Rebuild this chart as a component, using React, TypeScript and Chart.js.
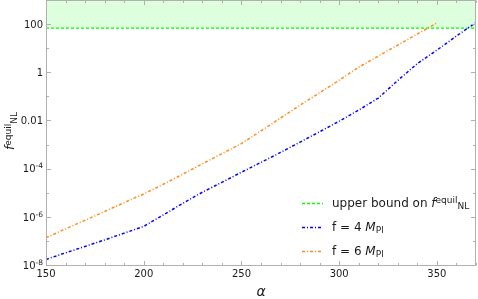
import React, { useEffect, useRef } from "react";
import { Chart, registerables } from "chart.js";

Chart.register(...registerables);

// alpha values (x)
const alphaBlue = [150, 160, 170, 180, 190, 200, 210, 220, 230, 240, 250, 260, 270, 280, 290, 300, 310, 320, 330, 340, 350, 360, 370];
// f = 4 M_Pl
const fnlBlue = [1.7e-8, 3.2e-8, 5.9e-8, 1.1e-7, 2.1e-7, 4.0e-7, 1.2e-6, 3.6e-6, 1.05e-5, 2.7e-5, 7.1e-5, 1.82e-4, 4.7e-4, 1.26e-3, 3.4e-3, 9.3e-3, 0.027, 0.085, 0.46, 2.3, 8.3, 32, 117];

const alphaOrange = [150, 160, 170, 180, 190, 200, 210, 220, 230, 240, 250, 260, 270, 280, 290, 300, 310, 320, 330, 340, 350];
// f = 6 M_Pl
const fnlOrange = [1.35e-7, 3.16e-7, 7.2e-7, 1.66e-6, 3.9e-6, 8.9e-6, 2.24e-5, 5.9e-5, 1.58e-4, 4.2e-4, 1.1e-3, 3.7e-3, 0.0126, 0.043, 0.141, 0.47, 1.62, 4.7, 13.5, 38.9, 112];

// upper bound on f_NL^equil
const boundAlpha = [150, 370];
const boundValue = 68;

// axis ticks
const xMajorTicks = [150, 200, 250, 300, 350];
const yExponents = [-8, -7, -6, -5, -4, -3, -2, -1, 0, 1, 2, 3];
const yLabelExponents = [-8, -6, -4, -2, 0, 2];

const FONT = "'DejaVu Sans'";
const TXT = "#1a1a1a";
const FRAME = "#b0b0b0";

type Part = { text: string; font: string; dy: number };

function richWidth(ctx: CanvasRenderingContext2D, parts: Part[]) {
  let w = 0;
  for (const p of parts) {
    ctx.font = p.font;
    w += ctx.measureText(p.text).width;
  }
  return w;
}

function drawRich(ctx: CanvasRenderingContext2D, parts: Part[], x: number, y: number) {
  let cx = x;
  ctx.textAlign = "left";
  ctx.textBaseline = "alphabetic";
  for (const p of parts) {
    ctx.font = p.font;
    ctx.fillText(p.text, cx, y + p.dy);
    cx += ctx.measureText(p.text).width;
  }
}

const decorPlugin = {
  id: "decor",
  afterDraw(chart: any) {
    const ctx: CanvasRenderingContext2D = chart.ctx;
    const { left, right, top, bottom } = chart.chartArea;
    const xs = chart.scales.x;
    const ys = chart.scales.y;
    ctx.save();
    // frame
    ctx.strokeStyle = FRAME;
    ctx.lineWidth = 1;
    ctx.setLineDash([]);
    const L = Math.round(left) + 0.5;
    const R = Math.round(right) - 0.5;
    const T = Math.round(top) + 0.5;
    const B = Math.round(bottom) + 0.5;
    ctx.strokeRect(L, T, R - L, B - T);
    ctx.beginPath();
    for (let a = 150; a <= 370; a += 10) {
      const px = Math.round(xs.getPixelForValue(a)) + 0.5;
      const len = a % 50 === 0 ? 4.5 : 2.5;
      ctx.moveTo(px, B);
      ctx.lineTo(px, B - len);
      ctx.moveTo(px, T);
      ctx.lineTo(px, T + len);
    }
    for (const e of yExponents) {
      const py = Math.round(ys.getPixelForValue(Math.pow(10, e))) + 0.5;
      const len = e % 2 === 0 ? 4.5 : 2.5;
      ctx.moveTo(L, py);
      ctx.lineTo(L + len, py);
      ctx.moveTo(R, py);
      ctx.lineTo(R - len, py);
    }
    ctx.stroke();

    // tick labels
    ctx.fillStyle = TXT;
    ctx.font = `10px ${FONT}`;
    ctx.textAlign = "center";
    ctx.textBaseline = "middle";
    for (const a of xMajorTicks) {
      ctx.fillText(String(a), xs.getPixelForValue(a), 274);
    }
    for (const e of yLabelExponents) {
      const py = ys.getPixelForValue(Math.pow(10, e));
      let parts: Part[];
      if (e >= -2) {
        const t = e === 2 ? "100" : e === 0 ? "1" : "0.01";
        parts = [{ text: t, font: `10px ${FONT}`, dy: 0 }];
      } else {
        parts = [
          { text: "10", font: `10px ${FONT}`, dy: 0 },
          { text: "-" + String(-e), font: `7.5px ${FONT}`, dy: -4 },
        ];
      }
      const w = richWidth(ctx, parts);
      drawRich(ctx, parts, 43 - w, py + 3.8);
    }

    // x title
    ctx.font = `italic 14px ${FONT}`;
    ctx.textAlign = "center";
    ctx.textBaseline = "alphabetic";
    ctx.fillText("α", (left + right) / 2, 295.5);

    // y title
    const yParts: Part[] = [
      { text: "f", font: `italic 12px ${FONT}`, dy: 0 },
      { text: "equil", font: `9px ${FONT}`, dy: -3.5 },
      { text: "NL", font: `9px ${FONT}`, dy: 2.6 },
    ];
    const yw = richWidth(ctx, yParts);
    ctx.save();
    ctx.translate(14, 131);
    ctx.rotate(-Math.PI / 2);
    drawRich(ctx, yParts, -yw / 2, 0);
    ctx.restore();

    // legend
    const rows = [
      {
        color: "#00ff00",
        dash: [3, 2],
        parts: [
          { text: "upper bound on ", font: `12px ${FONT}`, dy: 0 },
          { text: "f", font: `italic 12px ${FONT}`, dy: 0 },
          { text: "equil", font: `9px ${FONT}`, dy: -3.5 },
          { text: "NL", font: `9px ${FONT}`, dy: 2.6 },
        ],
        base: 206.7,
      },
      {
        color: "#0000ff",
        dash: [3, 2, 1, 2],
        parts: [
          { text: "f = 4 ", font: `12px ${FONT}`, dy: 0 },
          { text: "M", font: `italic 12px ${FONT}`, dy: 0 },
          { text: "Pl", font: `9px ${FONT}`, dy: 2.6 },
        ],
        base: 230.5,
      },
      {
        color: "#ff8c1a",
        dash: [3, 2, 1, 2],
        parts: [
          { text: "f = 6 ", font: `12px ${FONT}`, dy: 0 },
          { text: "M", font: `italic 12px ${FONT}`, dy: 0 },
          { text: "Pl", font: `9px ${FONT}`, dy: 2.6 },
        ],
        base: 254.5,
      },
    ];
    for (const r of rows) {
      const ly = Math.round(r.base - 3.8) + 0.5;
      ctx.strokeStyle = r.color;
      ctx.lineWidth = 1.3;
      ctx.setLineDash(r.dash);
      ctx.beginPath();
      ctx.moveTo(302, ly);
      ctx.lineTo(323, ly);
      ctx.stroke();
      ctx.setLineDash([]);
      ctx.fillStyle = TXT;
      drawRich(ctx, r.parts as Part[], 332, r.base);
    }
    ctx.restore();
  },
};

export default function App() {
  const ref = useRef<HTMLCanvasElement | null>(null);
  useEffect(() => {
    document.body.style.margin = "0";
    const canvas = ref.current;
    if (!canvas) return;
    const chart = new Chart(canvas, {
      type: "line",
      data: {
        datasets: [
          {
            label: "f = 4 M_Pl",
            data: alphaBlue.map((a, i) => ({ x: a, y: fnlBlue[i] })),
            borderColor: "#0000ff",
            borderDash: [3, 2, 1, 2],
            borderWidth: 1.5,
            pointRadius: 0,
            fill: false,
            tension: 0,
          },
          {
            label: "f = 6 M_Pl",
            data: alphaOrange.map((a, i) => ({ x: a, y: fnlOrange[i] })),
            borderColor: "#ff8c1a",
            borderDash: [3, 2, 1, 2],
            borderWidth: 1.5,
            pointRadius: 0,
            fill: false,
            tension: 0,
          },
          {
            label: "upper bound on f_NL^equil",
            data: boundAlpha.map((a) => ({ x: a, y: boundValue })),
            borderColor: "#00ff00",
            borderDash: [3, 2],
            borderWidth: 1.3,
            pointRadius: 0,
            fill: "end",
            backgroundColor: "rgba(0,255,0,0.13)",
            tension: 0,
          },
        ],
      },
      options: {
        animation: false,
        responsive: false,
        devicePixelRatio: 1,
        layout: { padding: { top: 0, right: 2, left: 0, bottom: 0 } },
        plugins: {
          legend: { display: false },
          tooltip: { enabled: false },
          filler: { drawTime: "beforeDatasetsDraw" },
        },
        scales: {
          x: {
            type: "linear",
            min: 150,
            max: 370,
            grid: { display: false },
            border: { display: false },
            ticks: { display: false },
            afterFit: (s: any) => {
              s.height = 34;
            },
          },
          y: {
            type: "logarithmic",
            min: 1e-8,
            max: 1e3,
            grid: { display: false },
            border: { display: false },
            ticks: { display: false },
            afterFit: (s: any) => {
              s.width = 46;
            },
          },
        },
      } as any,
      plugins: [decorPlugin],
    });
    return () => chart.destroy();
  }, []);
  return (
    <div style={{ width: 478, height: 299 }}>
      <canvas ref={ref} width={478} height={299} style={{ display: "block" }} />
    </div>
  );
}
